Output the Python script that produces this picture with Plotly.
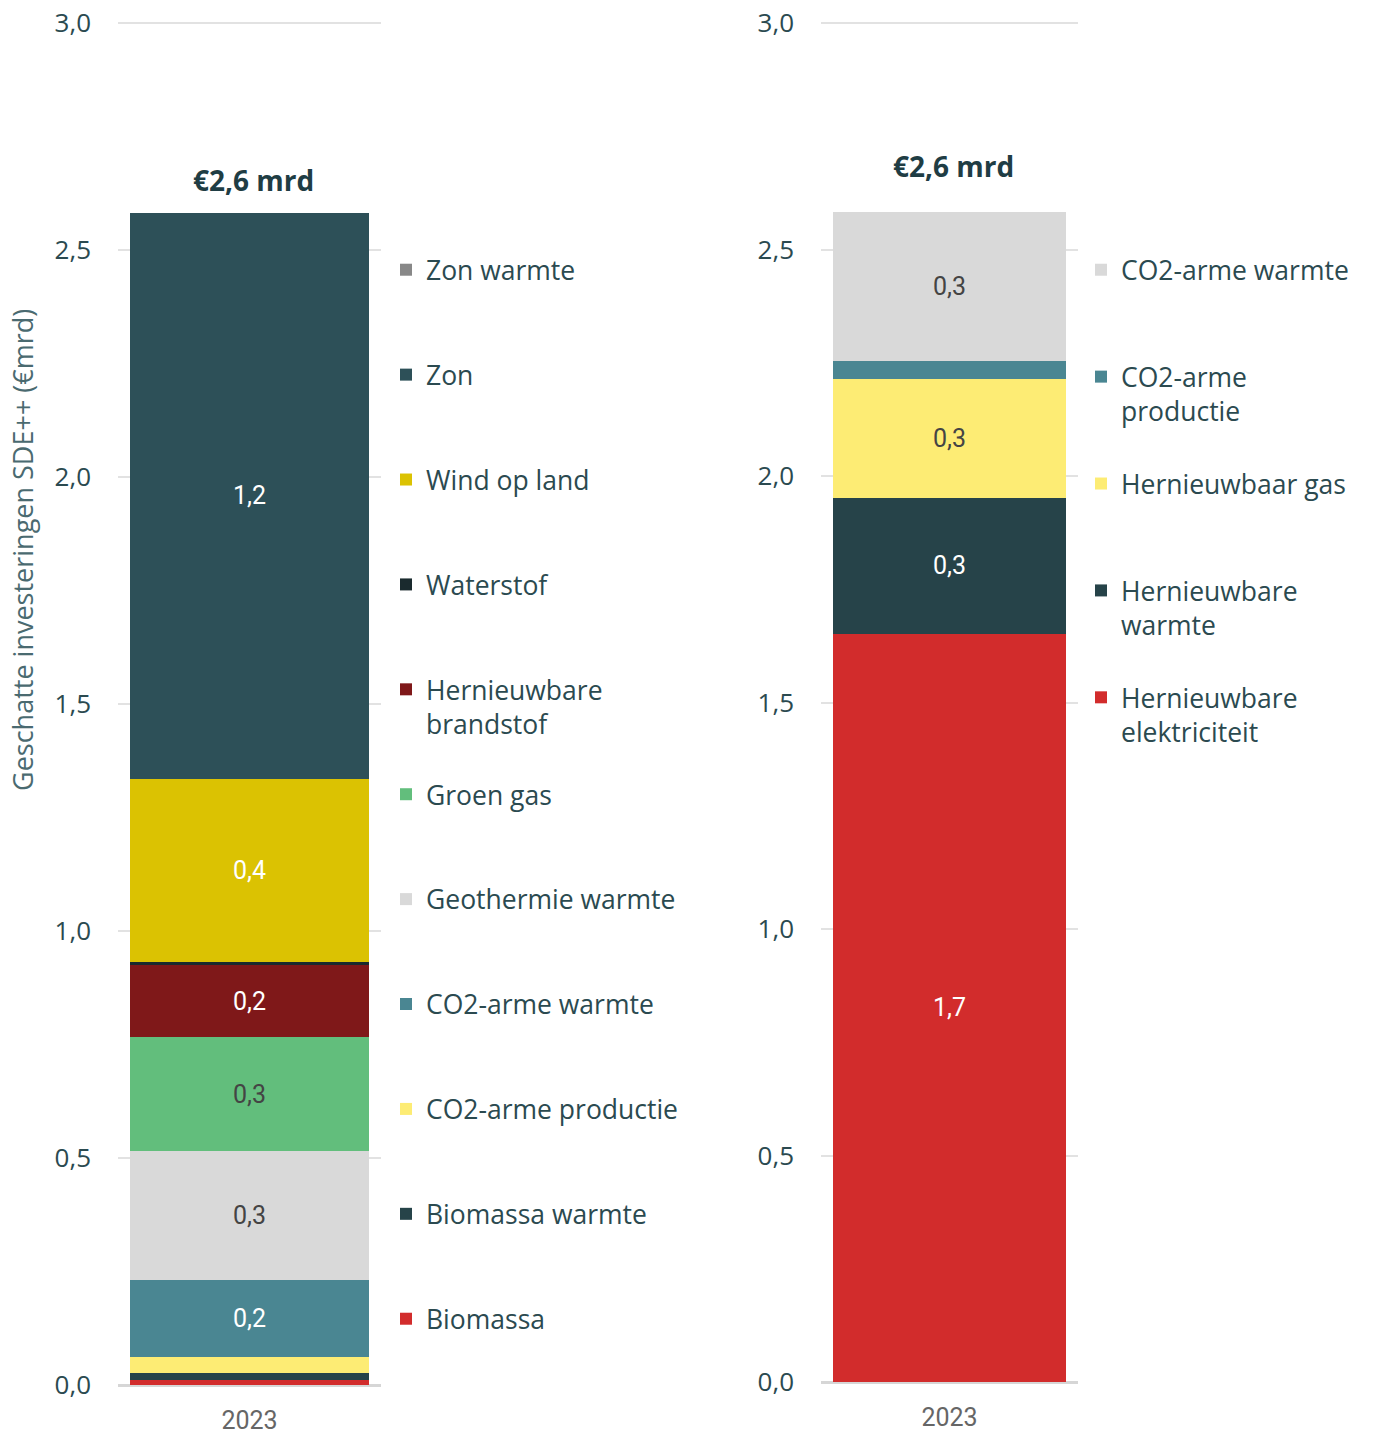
import plotly.graph_objects as go

# Estimated SDE++ investment per category, 2023 (billion euro), stacked bottom to top
year = ["2023"]

left_categories = [
    "Biomassa", "Biomassa warmte", "CO2-arme productie", "CO2-arme warmte",
    "Geothermie warmte", "Groen gas", "Hernieuwbare brandstof", "Waterstof",
    "Wind op land", "Zon", "Zon warmte",
]
left_values = [0.011, 0.015, 0.035, 0.170, 0.284, 0.251, 0.159, 0.007, 0.403, 1.247, 0.0]

right_categories = [
    "Hernieuwbare elektriciteit", "Hernieuwbare warmte", "Hernieuwbaar gas",
    "CO2-arme productie", "CO2-arme warmte",
]
right_values = [1.652, 0.299, 0.263, 0.040, 0.329]

y_ticks = [0.0, 0.5, 1.0, 1.5, 2.0, 2.5, 3.0]

# Styling per category
left_colors = {
    "Biomassa": "#d22c2c", "Biomassa warmte": "#264349", "CO2-arme productie": "#fdec74",
    "CO2-arme warmte": "#4a8692", "Geothermie warmte": "#d9d9d9", "Groen gas": "#62be7c",
    "Hernieuwbare brandstof": "#7f1819", "Waterstof": "#1a2a2e", "Wind op land": "#dbc202",
    "Zon": "#2d5058", "Zon warmte": "#888888",
}
right_colors = {
    "Hernieuwbare elektriciteit": "#d22c2c", "Hernieuwbare warmte": "#264349",
    "Hernieuwbaar gas": "#fdec74", "CO2-arme productie": "#4a8692",
    "CO2-arme warmte": "#d9d9d9",
}
legend_names = {
    "Hernieuwbare brandstof": "Hernieuwbare<br>brandstof",
    "Hernieuwbare elektriciteit": "Hernieuwbare<br>elektriciteit",
    "Hernieuwbare warmte": "Hernieuwbare<br>warmte",
}
right_legend_names = {"CO2-arme productie": "CO2-arme<br>productie"}

LABEL_FONT = "Roboto"
TEXT_FONT = "Open Sans"
INK = "#2b4a50"

fig = go.Figure()


def add_stack(categories, values, colors, xaxis, yaxis, legend, extra_names, dark_text):
    n = len(categories)
    for i, (name, val) in enumerate(zip(categories, values)):
        label = extra_names.get(name, legend_names.get(name, name))
        if "<br>" not in label:
            label = label + "<br>\u00a0"
        fig.add_trace(go.Bar(
            x=year, y=[val], name=label,
            marker=dict(color=colors[name], line=dict(width=0)),
            texttemplate="%{y:.1f}" if val >= 0.1 else "",
            textposition="inside", insidetextanchor="middle", textangle=0,
            insidetextfont=dict(family=LABEL_FONT, size=25,
                                color="#444444" if name in dark_text else "#ffffff"),
            xaxis=xaxis, yaxis=yaxis, legend=legend, legendgroup=legend + name,
            legendrank=(n - i) * 10,
            hoverinfo="skip",
        ))


add_stack(left_categories, left_values, left_colors, "x", "y", "legend", {},
          {"Geothermie warmte", "Groen gas"})
add_stack(right_categories, right_values, right_colors, "x2", "y2", "legend2",
          right_legend_names, {"CO2-arme warmte", "Hernieuwbaar gas"})

W, H = 1375, 1434
Y_MAX = 3.01  # a little headroom so the 3,0 gridline is drawn


def px_x(a, b):
    return [a / W, b / W]


def px_y(zero_px, three_px):
    per_unit = (zero_px - three_px) / 3.0
    top_px = three_px - (Y_MAX - 3.0) * per_unit
    return [1 - zero_px / H, 1 - top_px / H]


yaxis_common = dict(
    range=[0, Y_MAX], autorange=False, tickvals=y_ticks, tickformat=".1f",
    showgrid=True, gridcolor="#e2e2e2", gridwidth=2,
    zeroline=True, zerolinecolor="#d6d6d6", zerolinewidth=3,
    showline=False, ticks="", ticklabelstandoff=26,
    tickfont=dict(family=TEXT_FONT, size=26, color=INK),
    fixedrange=True, automargin=False,
)
xaxis_common = dict(
    type="category", range=[-0.5, 0.5], autorange=False,
    showgrid=False, showline=False, zeroline=False, ticks="",
    tickfont=dict(family=LABEL_FONT, size=25, color="#666666"),
    ticklabelstandoff=18, fixedrange=True, automargin=False,
)

legend_common = dict(
    traceorder="grouped", valign="top", tracegroupgap=33,
    font=dict(family=TEXT_FONT, size=26.5, color=INK),
    bgcolor="rgba(0,0,0,0)", borderwidth=0, yanchor="top", xanchor="left",
    itemclick=False, itemdoubleclick=False,
)

fig.update_layout(
    width=W, height=H,
    margin=dict(l=0, r=0, t=0, b=0),
    paper_bgcolor="white", plot_bgcolor="white",
    barmode="stack", bargap=0.09,
    separators=", ",
    showlegend=True,
    xaxis=dict(domain=px_x(118, 381), anchor="y", **xaxis_common),
    yaxis=dict(domain=px_y(1385, 23), anchor="x", **yaxis_common),
    xaxis2=dict(domain=px_x(821, 1078), anchor="y2", **xaxis_common),
    yaxis2=dict(domain=px_y(1382, 23), anchor="x2", **yaxis_common),
    legend=dict(x=386 / W, y=1 - 246 / H, **legend_common),
    legend2=dict(x=1081 / W, y=1 - 246 / H, **{**legend_common, "tracegroupgap": 35}),
)

# Total of each stack above the bar (category position 0 on each x axis)
for xa, ya, vals, shift in (("x", "y", left_values, 33), ("x2", "y2", right_values, 46)):
    total = sum(vals)
    fig.add_annotation(
        x=0, y=total, xref=xa, yref=ya, yanchor="middle", yshift=shift, xshift=4,
        text="<b>€" + f"{total:.1f}".replace(".", ",") + " mrd</b>", showarrow=False,
        font=dict(family=TEXT_FONT, size=28, color="#1f3d44"),
    )

fig.add_annotation(
    x=22 / W, y=1 - 550 / H, xref="paper", yref="paper", textangle=-90,
    text="Geschatte investeringen SDE++ (€mrd)", showarrow=False,
    xanchor="center", yanchor="middle",
    font=dict(family=TEXT_FONT, size=27, color="#4a6a70"),
)

fig.write_html("out.html")
